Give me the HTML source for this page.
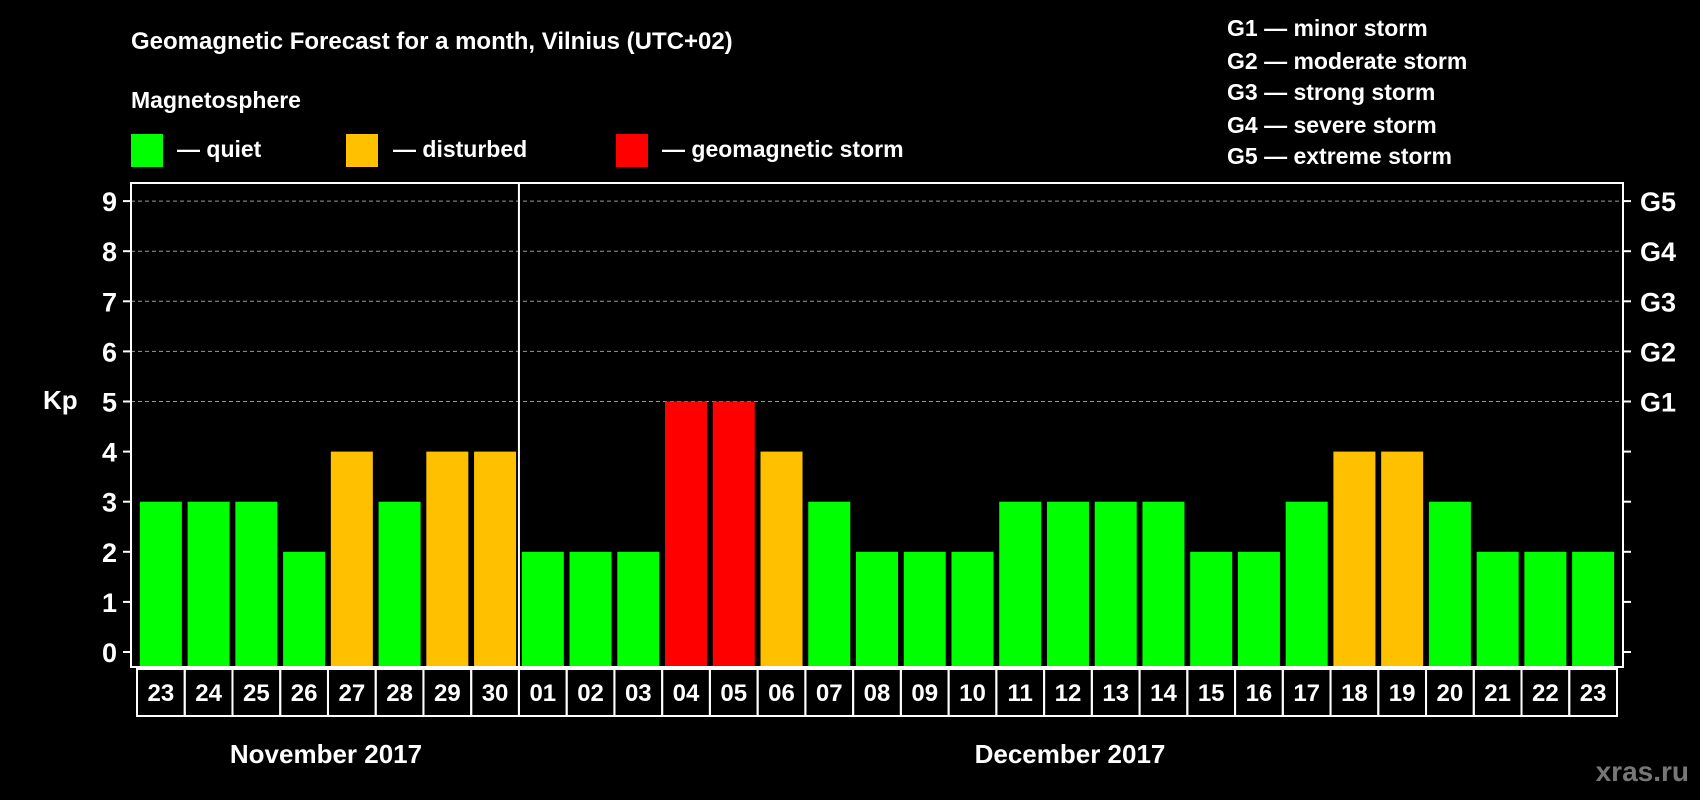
<!DOCTYPE html>
<html><head><meta charset="utf-8"><style>
html,body{margin:0;padding:0;background:#000;}
svg{display:block;}
text{font-family:"Liberation Sans",Arial,sans-serif;font-weight:bold;fill:#fff;}
</style></head><body>
<svg id="chart" width="1700" height="800" viewBox="0 0 1700 800">
<text x="131" y="49" font-size="24">Geomagnetic Forecast for a month, Vilnius (UTC+02)</text>
<text x="131" y="108" font-size="23">Magnetosphere</text>
<rect x="131" y="134" width="32" height="33" fill="#00ff00"/>
<text x="177" y="157" font-size="23">— quiet</text>
<rect x="346" y="134" width="32" height="33" fill="#ffc000"/>
<text x="393" y="157" font-size="23">— disturbed</text>
<rect x="616" y="134" width="32" height="33" fill="#ff0000"/>
<text x="662" y="157" font-size="23">— geomagnetic storm</text>
<g font-size="23">
<text x="1227" y="36">G1 — minor storm</text>
<text x="1227" y="69">G2 — moderate storm</text>
<text x="1227" y="100">G3 — strong storm</text>
<text x="1227" y="133">G4 — severe storm</text>
<text x="1227" y="164">G5 — extreme storm</text>
</g>
<text x="43" y="409" font-size="26">Kp</text>
<text x="326" y="763" font-size="26" text-anchor="middle">November 2017</text>
<text x="1070" y="763" font-size="26" text-anchor="middle">December 2017</text>
<text x="1689" y="781" font-size="28" text-anchor="end" style="fill:#777">xras.ru</text>
<g id="plot"></g>
</svg>
<script>
const days=["23","24","25","26","27","28","29","30","01","02","03","04","05","06","07","08","09","10","11","12","13","14","15","16","17","18","19","20","21","22","23"];
const kp=[3,3,3,2,4,3,4,4,2,2,2,5,5,4,3,2,2,2,3,3,3,3,2,2,3,4,4,3,2,2,2];
const yTicks=[0,1,2,3,4,5,6,7,8,9];
const gLabels=["G1","G2","G3","G4","G5"];
const gLevels=[5,6,7,8,9];
const monthSplit=8;
const NS="http://www.w3.org/2000/svg";
const g=document.getElementById('plot');
const L=131,R=1623,T=183,B=667,y0=652,unit=50.1;
const x0=158.3,step=(R-L-12)/days.length;
function X(i){return L+6+step*(i+0.5);}
function Y(v){return y0-v*unit;}
function mk(tag,attrs){const e=document.createElementNS(NS,tag);for(const k in attrs)e.setAttribute(k,attrs[k]);g.appendChild(e);return e;}
yTicks.forEach(v=>{
  if(v>=5){const l=mk('line',{x1:L,x2:R,y1:Y(v),y2:Y(v),stroke:'#999','stroke-dasharray':'4 3','stroke-width':1});
  
  }
  const t1=mk('line',{x1:L-8,x2:L,y1:Y(v),y2:Y(v),stroke:'#fff','stroke-width':2});
  
  
  const t2=mk('line',{x1:R,x2:R+8,y1:Y(v),y2:Y(v),stroke:'#fff','stroke-width':2});
  
  
  const tx=mk('text',{x:L-14,y:Y(v)+10,'font-size':27,'text-anchor':'end'});
  tx.textContent=v;
  
  
});
gLabels.forEach((s,i)=>{
  const tx=mk('text',{x:R+17,y:Y(gLevels[i])+10,'font-size':27});
  tx.textContent=s;
  
  
});
kp.forEach((v,i)=>{
  const c=v>=5?'#ff0000':(v>=4?'#ffc000':'#00ff00');
  const w=42;
  const b=mk('rect',{x:X(i)-w/2,y:Y(v),width:w,height:B-1-Y(v),fill:c});
  
  
  const bx=mk('rect',{x:X(i)-step/2,y:B+2,width:step,height:47,fill:'none',stroke:'#fff','stroke-width':2});
  
  
  const tx=mk('text',{x:X(i),y:B+34,'font-size':24,'text-anchor':'middle'});
  tx.textContent=days[i];
  
  
});
const sx=(X(monthSplit-1)+X(monthSplit))/2;
const sep=mk('line',{x1:sx,x2:sx,y1:T,y2:B,stroke:'#fff','stroke-width':2});


const fr=mk('rect',{x:L,y:T,width:R-L,height:B-T,fill:'none',stroke:'#fff','stroke-width':2});


</script>
</body></html>
